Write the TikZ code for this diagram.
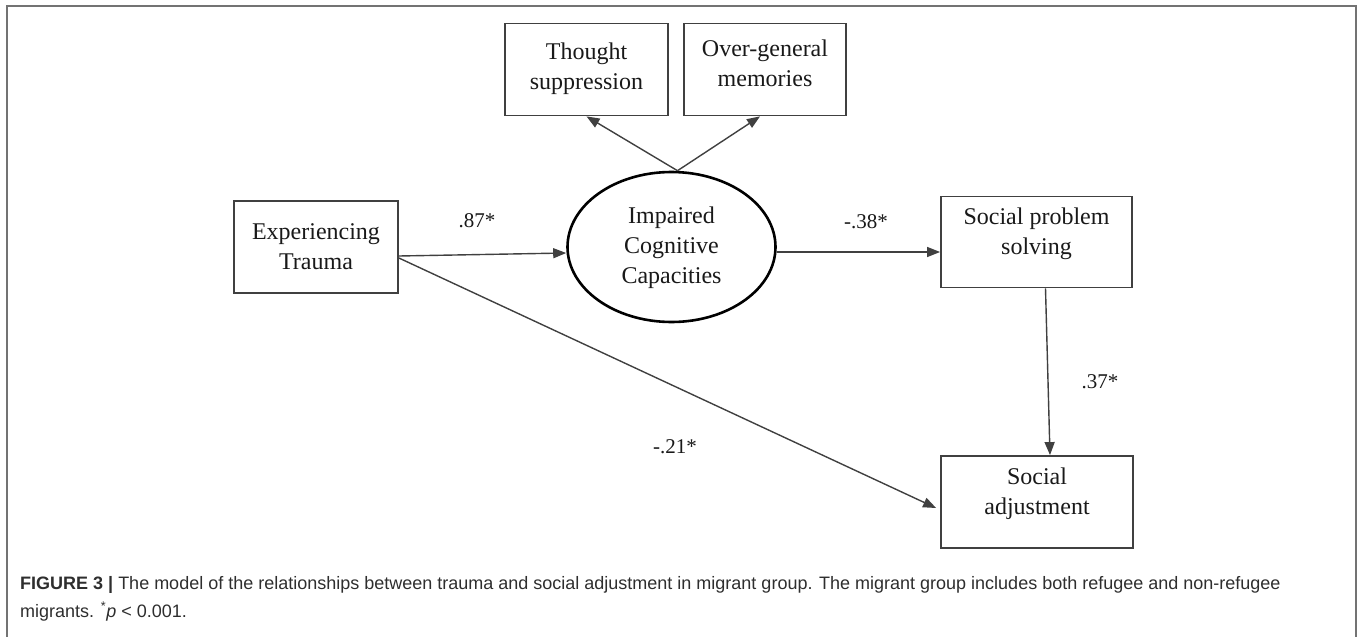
\documentclass[tikz,border=0pt]{standalone}
\usepackage{fontspec}
\setmainfont{Liberation Serif}
\newfontfamily\capfont{Liberation Sans}
\usetikzlibrary{shapes.geometric,arrows.meta,calc}
\begin{document}
\begin{tikzpicture}[x=1pt,y=-1pt,
  frame/.style={draw=black!55, line width=1.3pt},
  box/.style={draw=black!75, line width=1.8pt, rectangle, inner sep=0pt},
  lbl/.style={font=\fontsize{24}{30}\selectfont, align=center, text=black!90, inner sep=0pt},
  coef/.style={font=\fontsize{21}{24}\selectfont, text=black!90, inner sep=0pt},
  arr/.style={draw=black!75, line width=1.4pt, -{Triangle[length=13pt,width=10pt]}},
  captext/.style={anchor=base west, inner sep=0pt, text=black!82, font=\capfont\fontsize{18}{22}\selectfont},
]
\useasboundingbox (0,0) rectangle (1358,637);
\draw[frame] (7,637) -- (7,6) -- (1356,6) -- (1356,637);

% boxes
\node[box, minimum width=163pt, minimum height=92pt] (ts) at (586.5,69.5) {};
\node[lbl] (tst) at (586.5,69) {Thought\\suppression};
\node[box, minimum width=162pt, minimum height=92pt] (og) at (765,69.5) {};
\node[lbl] (ogt) at (765,63) {Over-general\\memories};
\node[box, minimum width=164pt, minimum height=92pt] (exp) at (316,247) {};
\node[lbl] (expt) at (316,247) {Experiencing\\Trauma};
\node[draw=black, line width=2.6pt, ellipse, minimum width=208pt, minimum height=150pt, inner sep=0pt] (icc) at (671.5,247) {};
\node[lbl] (icct) at (671.5,248) {Impaired\\Cognitive\\Capacities};
\node[box, minimum width=191pt, minimum height=91pt] (sps) at (1036.5,242) {};
\node[lbl] (spst) at (1036.5,234) {Social problem\\solving};
\node[box, minimum width=192pt, minimum height=92pt] (sa) at (1037,502) {};
\node[lbl] (sat) at (1037,494) {Social\\adjustment};

% connectors
\coordinate (top) at ($(icc.north)+(6,0)$);
\draw[arr] (top) -- (ts.south);
\draw[arr] (top) -- ($(og.south)+(-5,0)$);
\draw[arr] ($(exp.east)+(0,9)$) -- ($(icc.west)+(0,6)$);
\draw[arr] ($(icc.east)+(0,5)$) -- ($(sps.west)+(0,10)$);
\draw[arr] ($(sps.south)+(9,0)$) -- ($(sa.north)+(13,0)$);
\draw[arr] ($(exp.east)+(0,11)$) -- ($(sa.west)+(-4,6)$);

% coefficients
\node[coef] (c1) at (477,221) {.87*};
\node[coef] (c2) at (866,222) {-.38*};
\node[coef] (c3) at (1100,382) {.37*};
\node[coef] (c4) at (675,447) {-.21*};

% caption
\node[captext] (cap1) at (20,589) {\textbf{FIGURE 3 |} The model of the relationships between trauma and social adjustment in migrant group. The migrant group includes both refugee and non-refugee};
\node[captext] (cap2) at (20,617) {migrants. \textsuperscript{*}\textit{p} < 0.001.};
\end{tikzpicture}
\end{document}
